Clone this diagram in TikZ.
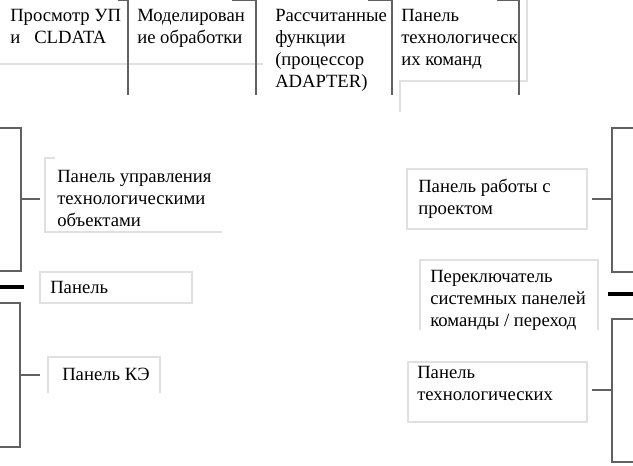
\documentclass[tikz,border=0pt]{standalone}
\usepackage{fontspec}
\setmainfont{Liberation Serif}
\newfontfamily\panelfont{Liberation Serif}
\usepackage{tikz}
\usetikzlibrary{positioning,calc}
\definecolor{rulegray}{gray}{0.38}
\definecolor{boxgray}{gray}{0.88}

\begin{document}
\begin{tikzpicture}[x=0.75pt,y=-0.75pt,
    lbl/.style={anchor=base west,inner sep=0pt,align=left,font=\panelfont\fontsize{14}{16.5}\selectfont},
    frame/.style={draw=boxgray,line width=0.8pt},
    brk/.style={draw=rulegray,line width=0.9pt},
    sep/.style={draw=black,line width=3pt}]
\useasboundingbox (0,0) rectangle (633,465);

% Top row (nodes sit on the baseline of their last line)
\draw[frame] (0,64) -- (263,64);
\draw[frame] (527,0) -- (527,81) -- (400,81) -- (400,112);
\foreach \xa/\xb in {118/128,232/256,368/392,497/519}
  \draw[brk] (\xa,0.7) -- (\xb,0.7) -- (\xb,95);
\node[lbl] (cl) at (10,43) {Просмотр УП\\и \ \ CLDATA};
\node[lbl] (sim) at (137,43) {Моделирован\\ие обработки};
\node[lbl] (adp) at (275,87) {Рассчитанные\\функции\\(процессор\\ADAPTER)};
\node[lbl] (tcmd) at (401,65) {Панель\\технологическ\\их команд};

% Left side
\draw[frame] (55,158) -- (45,158) -- (45,232) -- (222,232);
\node[lbl] (tobj) at (57,226) {Панель управления\\технологическими\\объектами};
\draw[frame] (40,272) rectangle (192,303);
\node[lbl] (pan) at (50,293) {Панель};
\draw[frame] (48,393) -- (48,357) -- (160,357) -- (160,393);
\node[lbl] (ke) at (62,380) {Панель КЭ};
\coordinate (la) at (21,199);
\coordinate (lb) at (20,375);
\draw[brk] (0,128) -- (21,128) -- (21,271) -- (0,271);
\draw[brk] (la) -- ++(19,0);
\draw[sep] (0,287) -- (24,287);
\draw[brk] (0,303) -- (20,303) -- (20,447) -- (0,447);
\draw[brk] (lb) -- ++(20,0);

% Right side
\draw[frame] (407,169) rectangle (587,229);
\node[lbl] (proj) at (418,214) {Панель работы с\\проектом};
\begin{scope}
  \clip (419,259) rectangle (599,330);
  \draw[frame] (420,330) -- (420,260) -- (598,260) -- (598,330);
  \node[lbl] (sw) at (430,326) {Переключатель\\системных панелей\\команды / переход};
\end{scope}
\draw[frame] (408,362) rectangle (587,422);
\node[lbl] (tech) at (417,400) {Панель\\технологических};
\coordinate (ra) at (612,199);
\coordinate (rb) at (612,390);
\draw[brk] (633,128) -- (612,128) -- (612,272) -- (633,272);
\draw[brk] (ra) -- ++(-20,0);
\draw[sep] (608,294) -- (633,294);
\draw[brk] (633,319) -- (612,319) -- (612,462) -- (633,462);
\draw[brk] (rb) -- ++(-20,0);

\end{tikzpicture}
\end{document}
